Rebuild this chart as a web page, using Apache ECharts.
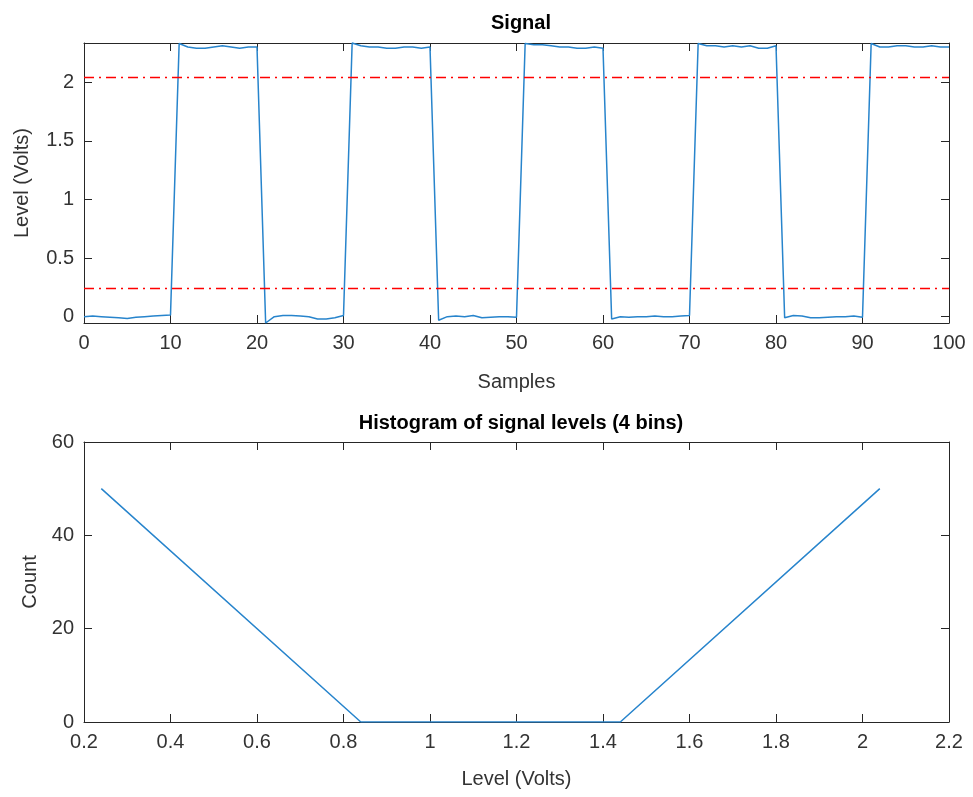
<!DOCTYPE html>
<html>
<head>
<meta charset="utf-8">
<script src="https://cdn.jsdelivr.net/npm/echarts@6/dist/echarts.min.js"></script>
<style>html,body{margin:0;padding:0;background:#fff}#c{width:973px;height:797px}</style>
</head>
<body>
<div id="c"></div>
<script>
// ---- data ----
const samples = Array.from({length: 101}, (_, i) => i);
const signalLevels = [
  0.000, 0.005, 0.000, -0.005, -0.010, -0.015, -0.005, 0.000, 0.005, 0.010, 0.015,
  2.330, 2.300, 2.290, 2.290, 2.300, 2.310, 2.300, 2.290, 2.300, 2.300,
  -0.054, 0.000, 0.010, 0.010, 0.005, 0.000, -0.020, -0.020, -0.010, 0.010,
  2.334, 2.310, 2.300, 2.300, 2.290, 2.290, 2.300, 2.300, 2.290, 2.300,
  -0.030, 0.000, 0.005, 0.000, 0.010, -0.010, -0.005, 0.000, 0.000, -0.005,
  2.330, 2.320, 2.320, 2.310, 2.300, 2.300, 2.290, 2.290, 2.300, 2.290,
  -0.020, 0.000, -0.005, 0.000, 0.000, 0.005, 0.000, 0.000, 0.005, 0.010,
  2.330, 2.310, 2.310, 2.300, 2.310, 2.300, 2.310, 2.290, 2.290, 2.310,
  -0.010, 0.010, 0.005, -0.010, -0.010, -0.005, 0.000, 0.000, 0.005, -0.005,
  2.330, 2.300, 2.300, 2.310, 2.310, 2.300, 2.300, 2.310, 2.300, 2.300
];
const stateLevels = [0.24, 2.04];
const binCenters = [0.24, 0.84, 1.44, 2.04];
const binCounts = [50, 0, 0, 50];

const sigXTicks = [0, 10, 20, 30, 40, 50, 60, 70, 80, 90, 100];
const sigYTicks = [0, 0.5, 1, 1.5, 2];
const histXTicks = [0.2, 0.4, 0.6, 0.8, 1, 1.2, 1.4, 1.6, 1.8, 2, 2.2];
const histYTicks = [0, 20, 40, 60];

// ---- styling ----
const FONT = '"Liberation Sans", Arial, Helvetica, sans-serif';
const AX = '#262626';
const TXT = '#333333';
const BLUE = '#2784CC';
const tickFont = {color: TXT, fontSize: 20, fontFamily: FONT};

function boxAxis(opts) {
  const base = {
    type: 'value',
    gridIndex: opts.grid,
    position: opts.position,
    min: opts.min, max: opts.max,
    splitLine: {show: false},
    axisLine: {show: true, onZero: false, lineStyle: {color: AX, width: 1}},
    axisTick: {show: true, inside: true, length: 8, lineStyle: {color: AX, width: 1}, customValues: opts.ticks},
    axisLabel: opts.labels ? Object.assign({show: true, margin: 10, customValues: opts.ticks}, tickFont) : {show: false},
    silent: true
  };
  if (opts.name) {
    base.name = opts.name;
    base.nameLocation = 'middle';
    base.nameGap = opts.nameGap;
    base.nameTextStyle = {color: TXT, fontSize: 20, fontFamily: FONT};
  }
  return base;
}

const chart = echarts.init(document.getElementById('c'), null, {renderer: 'canvas'});
chart.setOption({
  animation: false,
  backgroundColor: '#fff',
  title: [
    {text: 'Signal', left: 516, top: 8, textAlign: 'center',
     textStyle: {fontSize: 20, fontWeight: 'bold', color: '#000', fontFamily: FONT}},
    {text: 'Histogram of signal levels (4 bins)', left: 516, top: 408, textAlign: 'center',
     textStyle: {fontSize: 20, fontWeight: 'bold', color: '#000', fontFamily: FONT}}
  ],
  grid: [
    {left: 84, top: 43, width: 865, height: 280, containLabel: false},
    {left: 84, top: 442, width: 865, height: 280, containLabel: false}
  ],
  xAxis: [
    boxAxis({grid: 0, position: 'bottom', min: 0, max: 100, ticks: sigXTicks, labels: true, name: 'Samples', nameGap: 49}),
    boxAxis({grid: 0, position: 'top', min: 0, max: 100, ticks: sigXTicks, labels: false}),
    boxAxis({grid: 1, position: 'bottom', min: 0.2, max: 2.2, ticks: histXTicks, labels: true, name: 'Level (Volts)', nameGap: 47}),
    boxAxis({grid: 1, position: 'top', min: 0.2, max: 2.2, ticks: histXTicks, labels: false})
  ],
  yAxis: [
    boxAxis({grid: 0, position: 'left', min: -0.054, max: 2.334, ticks: sigYTicks, labels: true, name: 'Level (Volts)', nameGap: 52}),
    boxAxis({grid: 0, position: 'right', min: -0.054, max: 2.334, ticks: sigYTicks, labels: false}),
    boxAxis({grid: 1, position: 'left', min: 0, max: 60, ticks: histYTicks, labels: true, name: 'Count', nameGap: 43}),
    boxAxis({grid: 1, position: 'right', min: 0, max: 60, ticks: histYTicks, labels: false})
  ],
  series: [
    {
      type: 'line', xAxisIndex: 0, yAxisIndex: 0, showSymbol: false, clip: false,
      data: samples.map((s, i) => [s, signalLevels[i]]),
      lineStyle: {color: BLUE, width: 1.5}, itemStyle: {color: BLUE}
    },
    ...stateLevels.map(v => ({
      type: 'line', xAxisIndex: 0, yAxisIndex: 0, showSymbol: false,
      data: [[samples[0], v], [samples[samples.length - 1], v]],
      lineStyle: {color: '#FF0000', width: 1.5, type: [10, 5, 2, 5]}, itemStyle: {color: '#FF0000'}
    })),
    {
      type: 'line', xAxisIndex: 2, yAxisIndex: 2, showSymbol: false,
      data: binCenters.map((c, i) => [c, binCounts[i]]),
      lineStyle: {color: BLUE, width: 1.5}, itemStyle: {color: BLUE}
    }
  ]
});
</script>
</body>
</html>
